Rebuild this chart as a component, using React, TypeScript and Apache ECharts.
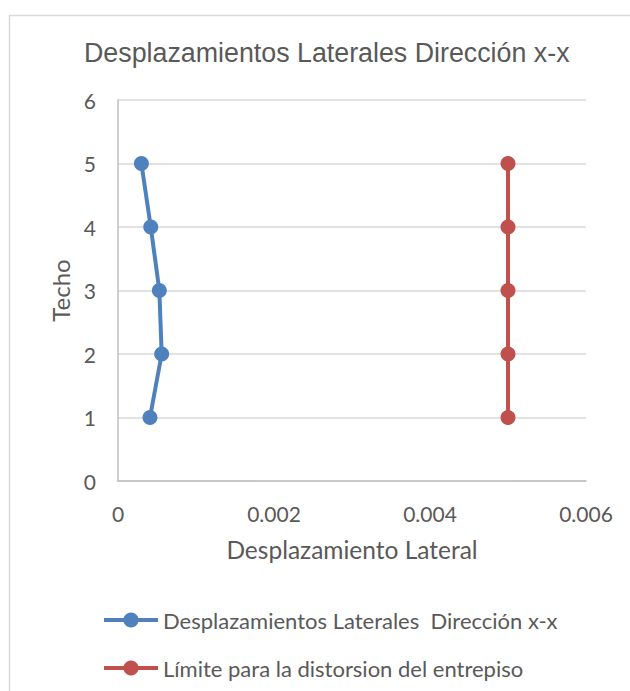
import React, { useEffect, useRef } from "react";
import * as echarts from "echarts";

const floors = [1, 2, 3, 4, 5];
const lateralDisp = [0.00041, 0.00056, 0.00053, 0.00042, 0.0003];
const limitDisp = [0.005, 0.005, 0.005, 0.005, 0.005];
const seriesNames = [
  "Desplazamientos Laterales  Dirección x-x",
  "Límite para la distorsion del entrepiso",
];
const titleText = "Desplazamientos Laterales Dirección x-x";
const xAxisName = "Desplazamiento Lateral";
const yAxisName = "Techo";

export default function App() {
  const ref = useRef<HTMLDivElement>(null);
  useEffect(() => {
    if (!ref.current) return;
    const chart = echarts.init(ref.current, null, { renderer: "svg" });
    const labelFont = "Lato";
    chart.setOption({
      animation: false,
      backgroundColor: "#ffffff",
      title: {
        text: titleText,
        left: 79,
        top: 34,
        textStyle: {
          fontFamily: "Liberation Sans",
          fontSize: 26.8,
          fontWeight: "normal",
          color: "#595959",
        },
      },
      graphic: [
        {
          type: "rect",
          shape: { x: 9.5, y: 15.5, width: 700, height: 720 },
          style: { fill: "none", stroke: "#d9d9d9", lineWidth: 1.5 },
          silent: true,
          z: -1,
        },
      ],
      grid: { left: 118, right: 44, top: 100, bottom: 210 },
      xAxis: {
        type: "value",
        min: 0,
        max: 0.006,
        interval: 0.002,
        name: xAxisName,
        nameLocation: "middle",
        nameGap: 56,
        nameTextStyle: { fontFamily: labelFont, fontSize: 24.5, color: "#595959" },
        axisLine: { show: true, lineStyle: { color: "#bfbfbf", width: 1.5 } },
        axisTick: { show: false },
        axisLabel: {
          fontFamily: labelFont,
          fontSize: 21,
          color: "#595959",
          margin: 22,
        },
        splitLine: { show: false },
      },
      yAxis: {
        type: "value",
        min: 0,
        max: 6,
        interval: 1,
        name: yAxisName,
        nameLocation: "middle",
        nameGap: 46,
        nameRotate: 90,
        nameTextStyle: { fontFamily: labelFont, fontSize: 24, color: "#595959" },
        axisLine: { show: true, lineStyle: { color: "#bfbfbf", width: 1.5 } },
        axisTick: { show: false },
        axisLabel: {
          fontFamily: labelFont,
          fontSize: 21,
          color: "#595959",
          margin: 22,
        },
        splitLine: { show: true, lineStyle: { color: "#d9d9d9", width: 1.5 } },
      },
      legend: {
        orient: "vertical",
        left: 97,
        top: 604,
        itemWidth: 54,
        itemHeight: 19,
        itemGap: 26,
        lineStyle: { width: 4 },
        textStyle: {
          fontFamily: labelFont,
          fontSize: 22,
          color: "#595959",
          lineHeight: 19,
        },
        data: seriesNames,
      },
      series: [
        {
          name: seriesNames[0],
          type: "line",
          data: floors.map((f, i) => [lateralDisp[i], f]),
          symbol: "circle",
          symbolSize: 15,
          color: "#4f81bd",
          lineStyle: { width: 4, color: "#4f81bd" },
          itemStyle: { color: "#4f81bd" },
        },
        {
          name: seriesNames[1],
          type: "line",
          data: floors.map((f, i) => [limitDisp[i], f]),
          symbol: "circle",
          symbolSize: 15,
          color: "#c0504d",
          lineStyle: { width: 4, color: "#c0504d" },
          itemStyle: { color: "#c0504d" },
        },
      ],
    });
    return () => chart.dispose();
  }, []);
  return (
    <div
      ref={ref}
      style={{ position: "absolute", left: 0, top: 0, width: 630, height: 691 }}
    />
  );
}
